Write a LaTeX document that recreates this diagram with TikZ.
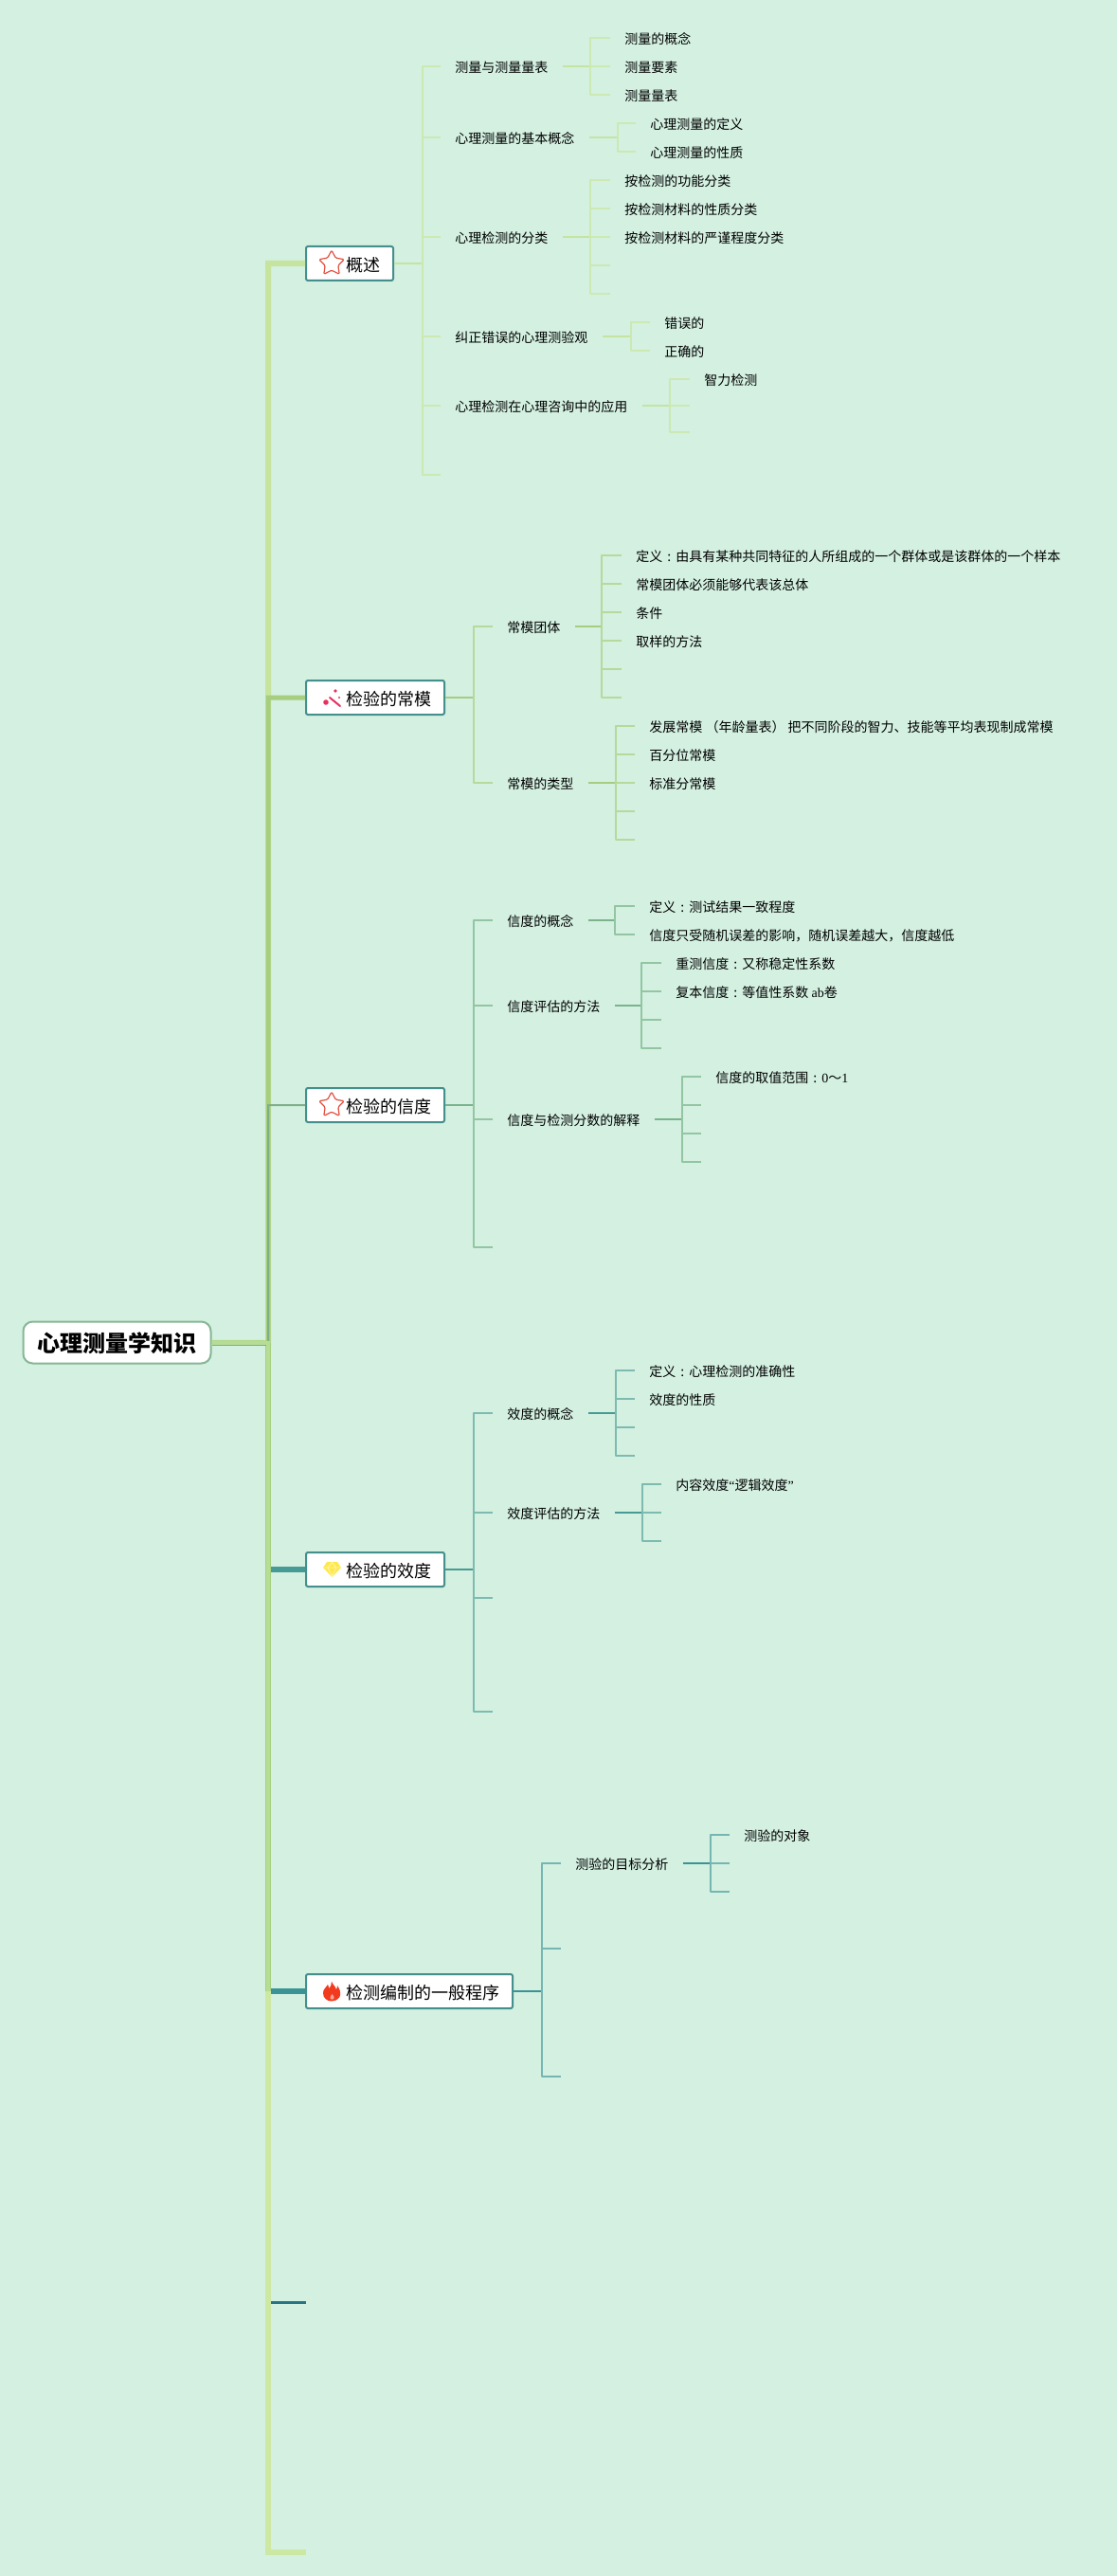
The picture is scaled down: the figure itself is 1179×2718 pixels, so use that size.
\documentclass[tikz,border=0pt]{standalone}
\usepackage{fontspec}
\setmainfont{Noto Sans CJK SC}
\newfontfamily\serifpart{Liberation Serif}
\newcommand\zhcolon{\makebox[1em][c]{:}}
\usetikzlibrary{shapes.geometric}
\definecolor{bgmint}{HTML}{D3F0E1}
\definecolor{topicedge}{HTML}{458F8C}
\definecolor{rootedge}{HTML}{86B794}
\definecolor{stuba}{HTML}{CCE9B2}
\definecolor{feeda}{HTML}{C4E4A0}
\definecolor{stubb}{HTML}{B6DA9B}
\definecolor{feedb}{HTML}{A5CC80}
\definecolor{stubc}{HTML}{93C5A2}
\definecolor{feedc}{HTML}{7BB38C}
\definecolor{stubd}{HTML}{7DBBB0}
\definecolor{feedd}{HTML}{489A94}
\definecolor{stube}{HTML}{76B6B2}
\definecolor{feede}{HTML}{3A9496}
\definecolor{trunka}{HTML}{C6E49E}
\definecolor{trunkb}{HTML}{A7CE7E}
\definecolor{trunkc}{HTML}{7FAF88}
\definecolor{trunkd}{HTML}{B5DD95}
\definecolor{trunke}{HTML}{CDE8A3}
\definecolor{blankteal}{HTML}{2A7385}
\definecolor{starred}{HTML}{E2503F}
\definecolor{sparkpink}{HTML}{E8305F}
\definecolor{gemyellow}{HTML}{FFE84A}
\definecolor{flamered}{HTML}{F23A1E}
\tikzset{
  rootbox/.style={draw=rootedge, fill=white, line width=1pt, rounded corners=5pt, inner xsep=7.5pt, inner ysep=0pt, minimum height=22pt, text height=11pt, text depth=0.9pt, font=\fontsize{12pt}{14pt}\selectfont\bfseries},
  topicbox/.style={draw=topicedge, fill=white, line width=1pt, rounded corners=1pt, anchor=west, inner xsep=7pt, inner ysep=0pt, minimum height=18pt, text height=8.8pt, text depth=0.4pt, font=\fontsize{9pt}{11pt}\selectfont},
  leaf/.style={anchor=west, inner xsep=7.5pt, inner ysep=1pt, text height=7.3pt, text depth=0.6pt, font=\fontsize{7pt}{9pt}\selectfont},
  stub/.style={line width=0.75pt, line join=round},
  feed/.style={line width=1pt},
  trunk/.style={line width=3pt, line join=miter},
  staricon/.style={star, star points=5, star point ratio=1.95, minimum size=14pt, inner sep=0pt, draw=starred, line width=0.6pt, rounded corners=0.7pt, fill=white}
}
\begin{document}
\begin{tikzpicture}[x=0.5pt,y=-0.5pt]
  \fill[bgmint] (0,0) rectangle (1179,2718);
  \useasboundingbox (0,0) rectangle (1179,2718);

  \node[rootbox] (root) at (123.5,1416.5) {心理测量学知识};
  \node[topicbox] (gaishu) at (322,278) {\hspace*{14pt}概述};
  \node[topicbox] (changmo) at (322,736) {\hspace*{14pt}检验的常模};
  \node[topicbox] (xindu) at (322,1166) {\hspace*{14pt}检验的信度};
  \node[topicbox] (xiaodu) at (322,1656) {\hspace*{14pt}检验的效度};
  \node[topicbox] (bianzhi) at (322,2101) {\hspace*{14pt}检测编制的一般程序};
  \coordinate (jroot) at (283,1417);
  \coordinate (jrootlow) at (280.5,1419.5);
  \coordinate (jdown) at (283,2101);
  \coordinate (jblank) at (285.5,2429);
  \coordinate (blanktop) at (322.5,2429);
  \coordinate (blankend) at (322.5,2693);
  \coordinate (jxiaodu) at (285.5,1656);
  \coordinate (jbianzhi) at (285.5,2101);

  \draw[trunk, trunka] (root) -- (jroot) |- (gaishu);
  \draw[trunk, line width=2.5pt, trunkb] (root) -- (jroot) |- (changmo);
  \draw[trunk, line width=1pt, trunkc] (root) -- (jroot) |- (xindu);
  \draw[trunk, line width=3pt, feedd] (jxiaodu) -- (xiaodu);
  \draw[trunk, line width=3pt, feede] (jbianzhi) -- (bianzhi);
  \draw[trunk, line width=1.5pt, blankteal] (jblank) -- (blanktop);
  \draw[trunk, trunke] (jdown) |- (blankend);
  \draw[trunk, trunkb] (jroot) -- (jdown);
  \draw[trunk, line width=2.2pt, trunkd] (root) -- (jroot) -- (jdown);
  \draw[line width=0.5pt, trunkc] (root.east |- jrootlow) -- (jrootlow);

  \node[staricon] (stara) at (350,278) {};
  \node[staricon] (starc) at (350,1166) {};
  \draw[line width=1pt, line cap=round, sparkpink] (348,736) -- (359,745);
  \fill[sparkpink] (354,729) circle (1.8) (358,736) circle (1.2) (344,741) circle (2.8);
  \fill[gemyellow] (345,1648) -- (356,1648) -- (360,1654) -- (350.5,1664) -- (341,1654) -- cycle;
  \draw[line width=0.4pt, gemyellow!45!white] (341.5,1654) -- (359.5,1654) (346,1654) -- (350.5,1663) -- (355,1654) -- (350.5,1648.5) -- cycle;
  \fill[flamered] (350,2090.5) .. controls (352,2096) and (355,2096) .. (355,2099) .. controls (356,2098) and (356,2096) .. (356,2095) .. controls (359,2099) and (360,2103) .. (358.5,2107) .. controls (356,2110.5) and (353,2111.5) .. (350,2111.5) .. controls (345,2111.5) and (341,2108) .. (341,2103) .. controls (341,2099) and (344,2097) .. (346,2094) .. controls (347,2096) and (347,2097) .. (347.5,2098) .. controls (349,2096) and (350,2094) .. (350,2090.5) -- cycle;
  \fill[flamered!45!white] (350.5,2104) .. controls (352,2106) and (353.5,2107) .. (352.5,2109) .. controls (351,2110) and (349,2110) .. (348.5,2108.5) .. controls (348,2107) and (349.5,2106) .. (350.5,2104) -- cycle;

  \coordinate (ja) at (446,278);
  \node[leaf] (a1) at (465,70) {测量与测量量表};
  \node[leaf] (a2) at (465,145) {心理测量的基本概念};
  \node[leaf] (a3) at (465,250) {心理检测的分类};
  \node[leaf] (a4) at (465,355) {纠正错误的心理测验观};
  \node[leaf] (a5) at (465,428) {心理检测在心理咨询中的应用};
  \coordinate (a6) at (465,501);
  \draw[feed, feeda] (gaishu) -- (ja);
  \foreach \kid in {a1,a2,a3,a4,a5,a6} \draw[stub, stuba] (ja) |- (\kid);

  \coordinate (ja1) at (623,70);
  \node[leaf] (a11) at (644,40) {测量的概念};
  \node[leaf] (a12) at (644,70) {测量要素};
  \node[leaf] (a13) at (644,100) {测量量表};
  \draw[feed, feeda] (a1) -- (ja1);
  \foreach \kid in {a11,a12,a13} \draw[stub, stuba] (ja1) |- (\kid);

  \coordinate (ja2) at (652,145);
  \node[leaf] (a21) at (671,130) {心理测量的定义};
  \node[leaf] (a22) at (671,160) {心理测量的性质};
  \draw[feed, feeda] (a2) -- (ja2);
  \foreach \kid in {a21,a22} \draw[stub, stuba] (ja2) |- (\kid);

  \coordinate (ja3) at (623,250);
  \node[leaf] (a31) at (644,190) {按检测的功能分类};
  \node[leaf] (a32) at (644,220) {按检测材料的性质分类};
  \node[leaf] (a33) at (644,250) {按检测材料的严谨程度分类};
  \coordinate (a34) at (644,280);
  \coordinate (a35) at (644,310);
  \draw[feed, feeda] (a3) -- (ja3);
  \foreach \kid in {a31,a32,a33,a34,a35} \draw[stub, stuba] (ja3) |- (\kid);

  \coordinate (ja4) at (666,355);
  \node[leaf] (a41) at (686,340) {错误的};
  \node[leaf] (a42) at (686,370) {正确的};
  \draw[feed, feeda] (a4) -- (ja4);
  \foreach \kid in {a41,a42} \draw[stub, stuba] (ja4) |- (\kid);

  \coordinate (ja5) at (707,428);
  \node[leaf] (a51) at (728,400) {智力检测};
  \coordinate (a52) at (728,428);
  \coordinate (a53) at (728,456);
  \draw[feed, feeda] (a5) -- (ja5);
  \foreach \kid in {a51,a52,a53} \draw[stub, stuba] (ja5) |- (\kid);

  \coordinate (jb) at (500,736);
  \node[leaf] (b1) at (520,661) {常模团体};
  \node[leaf] (b2) at (520,826) {常模的类型};
  \draw[feed, feedb] (changmo) -- (jb);
  \foreach \kid in {b1,b2} \draw[stub, stubb] (jb) |- (\kid);

  \coordinate (jb1) at (635,661);
  \node[leaf] (b11) at (656,586) {定义\zhcolon 由具有某种共同特征的人所组成的一个群体或是该群体的一个样本};
  \node[leaf] (b12) at (656,616) {常模团体必须能够代表该总体};
  \node[leaf] (b13) at (656,646) {条件};
  \node[leaf] (b14) at (656,676) {取样的方法};
  \coordinate (b15) at (656,706);
  \coordinate (b16) at (656,736);
  \draw[feed, feedb] (b1) -- (jb1);
  \foreach \kid in {b11,b12,b13,b14,b15,b16} \draw[stub, stubb] (jb1) |- (\kid);

  \coordinate (jb2) at (650,826);
  \node[leaf] (b21) at (670,766) {发展常模 （年龄量表） 把不同阶段的智力、技能等平均表现制成常模};
  \node[leaf] (b22) at (670,796) {百分位常模};
  \node[leaf] (b23) at (670,826) {标准分常模};
  \coordinate (b24) at (670,856);
  \coordinate (b25) at (670,886);
  \draw[feed, feedb] (b2) -- (jb2);
  \foreach \kid in {b21,b22,b23,b24,b25} \draw[stub, stubb] (jb2) |- (\kid);

  \coordinate (jc) at (500,1166);
  \node[leaf] (c1) at (520,971) {信度的概念};
  \node[leaf] (c2) at (520,1061) {信度评估的方法};
  \node[leaf] (c3) at (520,1181) {信度与检测分数的解释};
  \coordinate (c4) at (520,1316);
  \draw[feed, feedc] (xindu) -- (jc);
  \foreach \kid in {c1,c2,c3,c4} \draw[stub, stubc] (jc) |- (\kid);

  \coordinate (jc1) at (649,971);
  \node[leaf] (c11) at (670,956) {定义\zhcolon 测试结果一致程度};
  \node[leaf] (c12) at (670,986) {信度只受随机误差的影响，随机误差越大，信度越低};
  \draw[feed, feedc] (c1) -- (jc1);
  \foreach \kid in {c11,c12} \draw[stub, stubc] (jc1) |- (\kid);

  \coordinate (jc2) at (677,1061);
  \node[leaf] (c21) at (698,1016) {重测信度\zhcolon 又称稳定性系数};
  \node[leaf] (c22) at (698,1046) {复本信度\zhcolon 等值性系数 {\serifpart ab}卷};
  \coordinate (c23) at (698,1076);
  \coordinate (c24) at (698,1106);
  \draw[feed, feedc] (c2) -- (jc2);
  \foreach \kid in {c21,c22,c23,c24} \draw[stub, stubc] (jc2) |- (\kid);

  \coordinate (jc3) at (720,1181);
  \node[leaf] (c31) at (740,1136) {信度的取值范围\zhcolon {\serifpart 0}～{\serifpart 1}};
  \coordinate (c32) at (740,1166);
  \coordinate (c33) at (740,1196);
  \coordinate (c34) at (740,1226);
  \draw[feed, feedc] (c3) -- (jc3);
  \foreach \kid in {c31,c32,c33,c34} \draw[stub, stubc] (jc3) |- (\kid);

  \coordinate (jd) at (500,1656);
  \node[leaf] (d1) at (520,1491) {效度的概念};
  \node[leaf] (d2) at (520,1596) {效度评估的方法};
  \coordinate (d3) at (520,1686);
  \coordinate (d4) at (520,1806);
  \draw[feed, feedd] (xiaodu) -- (jd);
  \foreach \kid in {d1,d2,d3,d4} \draw[stub, stubd] (jd) |- (\kid);

  \coordinate (jd1) at (650,1491);
  \node[leaf] (d11) at (670,1446) {定义\zhcolon 心理检测的准确性};
  \node[leaf] (d12) at (670,1476) {效度的性质};
  \coordinate (d13) at (670,1506);
  \coordinate (d14) at (670,1536);
  \draw[feed, feedd] (d1) -- (jd1);
  \foreach \kid in {d11,d12,d13,d14} \draw[stub, stubd] (jd1) |- (\kid);

  \coordinate (jd2) at (678,1596);
  \node[leaf] (d21) at (698,1566) {内容效度{\serifpart “}逻辑效度{\serifpart ”}};
  \coordinate (d22) at (698,1596);
  \coordinate (d23) at (698,1626);
  \draw[feed, feedd] (d2) -- (jd2);
  \foreach \kid in {d21,d22,d23} \draw[stub, stubd] (jd2) |- (\kid);

  \coordinate (je) at (572,2101);
  \node[leaf] (e1) at (592,1966) {测验的目标分析};
  \coordinate (e2) at (592,2056);
  \coordinate (e3) at (592,2191);
  \draw[feed, feede] (bianzhi) -- (je);
  \foreach \kid in {e1,e2,e3} \draw[stub, stube] (je) |- (\kid);

  \coordinate (je1) at (750,1966);
  \node[leaf] (e11) at (770,1936) {测验的对象};
  \coordinate (e12) at (770,1966);
  \coordinate (e13) at (770,1996);
  \draw[feed, feede] (e1) -- (je1);
  \foreach \kid in {e11,e12,e13} \draw[stub, stube] (je1) |- (\kid);
\end{tikzpicture}
\end{document}
